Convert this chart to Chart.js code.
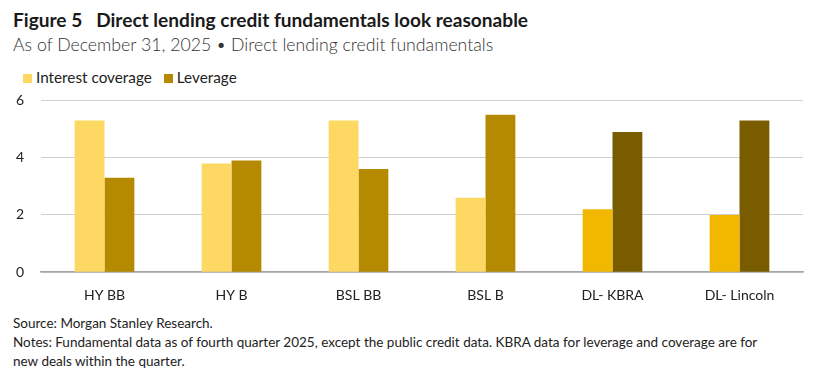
<!DOCTYPE html>
<html lang="en">
<head>
    <meta charset="UTF-8">
    <title>Figure 5</title>
    <script src="https://cdn.jsdelivr.net/npm/chart.js"></script>
    <style>
        body { margin: 0; width: 828px; height: 385px; background: #fff; font-family: Lato, "Open Sans", sans-serif; color: #222; position: relative; overflow: hidden; }
        .title { position: absolute; left: 13px; top: 8px; font-size: 19.1px; font-weight: bold; color: #1a1a1a; white-space: nowrap; }
        .subtitle { position: absolute; left: 13px; top: 34px; font-size: 17.7px; font-weight: 300; color: #333; white-space: nowrap; }
        .legend { position: absolute; left: 23px; top: 68px; font-size: 15.3px; color: #222; white-space: nowrap; }
        .legend span.box { display: inline-block; width: 9px; height: 9px; margin-right: 4px; vertical-align: 0px; }
        .legend span.item { margin-right: 12px; }
        #chart { position: absolute; left: 0; top: 75px; }
        .foot { position: absolute; left: 13px; font-size: 13.5px; color: #222; white-space: nowrap; }
    </style>
</head>
<body>
    <div class="title">Figure 5&nbsp;&nbsp; Direct lending credit fundamentals look reasonable</div>
    <div class="subtitle">As of December 31, 2025 &bull; Direct lending credit fundamentals</div>
    <div class="legend" id="legend"></div>
    <canvas id="chart" width="828" height="236"></canvas>
    <div class="foot" style="top:315px">Source: Morgan Stanley Research.</div>
    <div class="foot" style="top:334px">Notes: Fundamental data as of fourth quarter 2025, except the public credit data. KBRA data for leverage and coverage are for</div>
    <div class="foot" style="top:353px">new deals within the quarter.</div>
    <script>
        // Data
        const categories = ['HY BB', 'HY B', 'BSL BB', 'BSL B', 'DL- KBRA', 'DL- Lincoln'];
        const interestCoverage = [5.3, 3.8, 5.3, 2.6, 2.2, 2.0];
        const leverage = [3.3, 3.9, 3.6, 5.5, 4.9, 5.3];
        const yTicks = [0, 2, 4, 6];

        // DL bars use a stronger shade
        const coverageColors = ['#FDD862', '#FDD862', '#FDD862', '#FDD862', '#F2B800', '#F2B800'];
        const leverageColors = ['#B68A00', '#B68A00', '#B68A00', '#B68A00', '#7A5C00', '#7A5C00'];

        const datasets = [
            { label: 'Interest coverage', data: interestCoverage, backgroundColor: coverageColors },
            { label: 'Leverage', data: leverage, backgroundColor: leverageColors }
        ];

        // legend as plain html so the box/text spacing matches
        document.getElementById('legend').innerHTML = datasets.map(ds =>
            `<span class="item"><span class="box" style="background:${ds.backgroundColor[0]}"></span>${ds.label}</span>`
        ).join('');

        const ctx = document.getElementById('chart').getContext('2d');
        new Chart(ctx, {
            type: 'bar',
            data: { labels: categories, datasets: datasets },
            options: {
                responsive: false,
                animation: false,
                layout: { padding: { right: 25, top: 0, bottom: 0 } },
                datasets: { bar: { categoryPercentage: 0.47, barPercentage: 1 } },
                plugins: {
                    tooltip: { enabled: false },
                    legend: { display: false }
                },
                scales: {
                    x: {
                        grid: { display: false },
                        border: { color: '#a6a6a6', width: 1.5 },
                        ticks: { color: '#222', font: { family: 'Lato', size: 14 }, padding: 7 }
                    },
                    y: {
                        min: 0,
                        max: 6,
                        afterBuildTicks: scale => { scale.ticks = yTicks.map(v => ({ value: v })); },
                        afterFit: scale => { scale.width = 41; },
                        border: { display: false },
                        grid: { color: '#cfcfcf', drawTicks: false },
                        ticks: { color: '#222', font: { family: 'Lato', size: 14 }, padding: 17 }
                    }
                }
            }
        });
    </script>
</body>
</html>
